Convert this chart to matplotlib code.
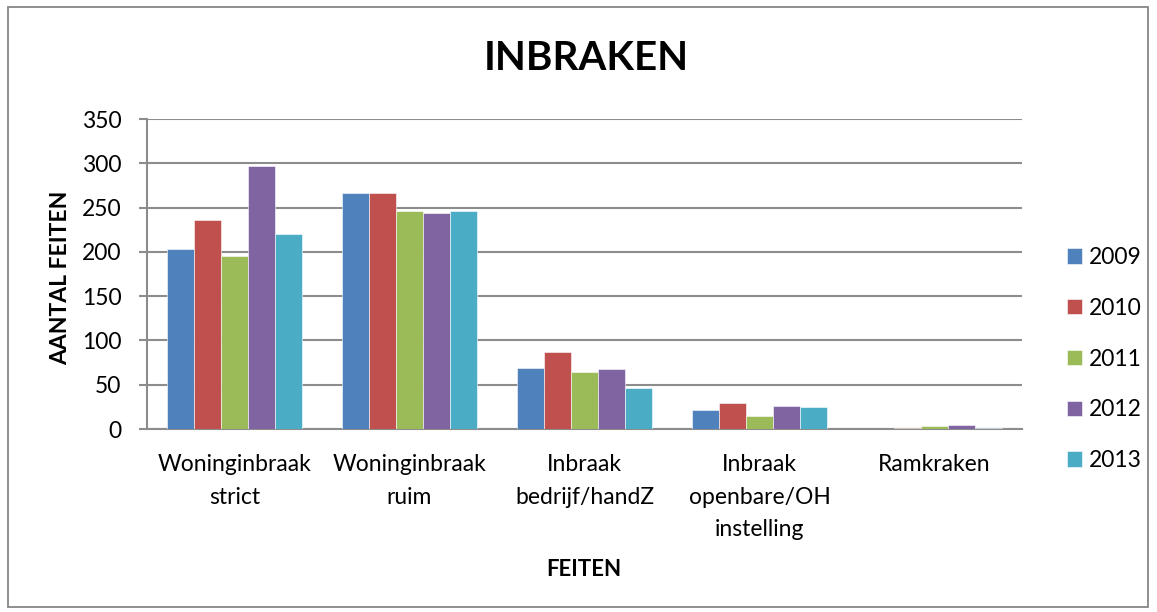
import matplotlib
matplotlib.use("Agg")
import matplotlib.pyplot as plt
import numpy as np
from matplotlib.patches import Rectangle

categories = ["Woninginbraak\nstrict", "Woninginbraak\nruim", "Inbraak\nbedrijf/handZ",
              "Inbraak\nopenbare/OH\ninstelling", "Ramkraken"]
years = ["2009", "2010", "2011", "2012", "2013"]
v2009 = [203, 267, 69, 21, 0]
v2010 = [236, 267, 87, 29, 1]
v2011 = [195, 246, 64, 15, 3]
v2012 = [297, 244, 68, 26, 5]
v2013 = [220, 246, 46, 25, 1]
series = [v2009, v2010, v2011, v2012, v2013]
colors = ["#4F81BD", "#C0504D", "#9BBB59", "#8064A2", "#4BACC6"]
yticks = [0, 50, 100, 150, 200, 250, 300, 350]

plt.rcParams['font.family'] = ['Lato', 'DejaVu Sans']

W, H = 1157, 612
FS = 16.5
fig = plt.figure(figsize=(W/100, H/100), dpi=100)
ax = fig.add_axes([147/W, 1-429/H, (1022-147)/W, (429-119)/H])

# outer chart border
fig.patches.append(Rectangle((8/W, 5/H), (1148-8)/W, (605-5)/H, transform=fig.transFigure,
                             fill=False, edgecolor="#868686", linewidth=1.3))

x = np.arange(len(categories))
bw = 0.154
for i, (vals, c) in enumerate(zip(series, colors)):
    ax.bar(x + (i - 2) * bw, vals, width=bw, color=c, edgecolor="#ffffff", linewidth=0.4,
           label=years[i], zorder=3)

ax.set_xlim(-0.5, len(categories) - 0.5)
ax.set_ylim(0, 350)
ax.set_yticks(yticks)
ax.set_yticklabels([str(t) for t in yticks])
ax.yaxis.grid(True, color="#8c8c8c", linewidth=1.5, zorder=0)
ax.set_axisbelow(True)
ax.set_xticks(x)
ax.set_xticklabels(categories, fontsize=FS, linespacing=1.68)
ax.tick_params(axis='x', length=0, pad=18)
ax.tick_params(axis='y', length=6, width=1.5, color="#8c8c8c", labelsize=FS, pad=12.5)
for s in ["top", "right"]:
    ax.spines[s].set_visible(False)
ax.spines["left"].set_color("#8c8c8c")
ax.spines["left"].set_linewidth(1.5)
ax.spines["bottom"].set_color("#8c8c8c")
ax.spines["bottom"].set_linewidth(1.5)

fig.text(586/W, 1-58/H, "INBRAKEN", ha="center", va="center", fontsize=29, fontweight="bold")
fig.text(61/W, 1-278/H, "AANTAL FEITEN", ha="center", va="center", rotation=90,
         fontsize=16.5, fontweight="bold")
fig.text(584/W, 1-570/H, "FEITEN", ha="center", va="center", fontsize=16, fontweight="bold")

leg = ax.legend(loc="center left", bbox_to_anchor=(1058/W, 1-359/H), bbox_transform=fig.transFigure,
                frameon=False, fontsize=FS, handlelength=0.65, handleheight=0.65,
                handletextpad=0.3, labelspacing=1.3, borderaxespad=0)

fig.savefig("out.png", dpi=100)
